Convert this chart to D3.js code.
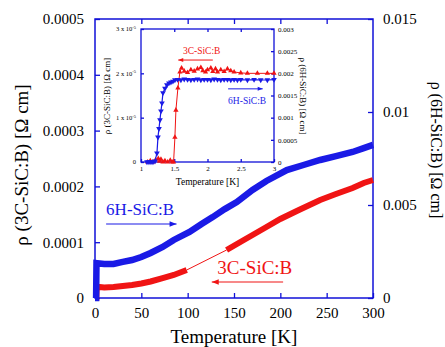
<!DOCTYPE html>
<html>
<head>
<meta charset="utf-8">
<script src="https://cdn.jsdelivr.net/npm/d3@7"></script>
<style>
  body { margin: 0; background: #fff; }
  svg { display: block; }
  text { font-family: "Liberation Serif", "Times New Roman", serif; }
</style>
</head>
<body>
<div id="chart"></div>
<script>
// main plot: 3C-SiC:B (left axis) and 6H-SiC:B (right axis)
const blueT = [0, 1.2, 1.6, 5, 10, 20, 30, 40, 50, 60, 73, 85, 102, 115, 127, 140, 153, 170, 185, 207, 225, 243, 260, 278, 290, 300];
const blueRho = [0, 0, 0.00188, 0.00186, 0.00183, 0.00183, 0.00194, 0.00204, 0.0022, 0.00242, 0.00274, 0.00312, 0.00355, 0.00398, 0.00435, 0.00478, 0.00516, 0.00581, 0.00629, 0.00688, 0.00715, 0.00742, 0.00763, 0.00785, 0.00806, 0.00823];
const redT1 = [0, 1.4, 1.8, 5, 10, 20, 30, 40, 50, 60, 73, 85, 99];
const redRho1 = [0, 0, 1.97e-5, 1.95e-5, 1.88e-5, 1.97e-5, 2.15e-5, 2.33e-5, 2.6e-5, 2.96e-5, 3.58e-5, 4.12e-5, 5.02e-5];
const redT2 = [142, 155, 170, 185, 200, 220, 243, 260, 278, 290, 300];
const redRho2 = [8.6e-5, 9.86e-5, 1.129e-4, 1.272e-4, 1.416e-4, 1.577e-4, 1.756e-4, 1.864e-4, 1.971e-4, 2.061e-4, 2.115e-4];

// inset: low temperature transition
const insetBlueT = [1.09, 1.12, 1.15, 1.18, 1.21, 1.24, 1.255, 1.27, 1.285, 1.3, 1.315, 1.33, 1.36, 1.39, 1.42, 1.45, 1.48, 1.51, 1.55, 1.6, 1.65, 1.7, 1.75, 1.8, 1.85, 1.9, 1.95, 2.0, 2.05, 2.1, 2.15, 2.2, 2.25, 2.3, 2.35, 2.4, 2.45, 2.5, 2.6, 2.7, 2.8, 2.9, 3.0];
const insetBlueRho = [0, 0, 0, 0, 0.00002, 0.0002, 0.00056, 0.00075, 0.00095, 0.00115, 0.00133, 0.00156, 0.00166, 0.00174, 0.00178, 0.0018, 0.00182, 0.00185, 0.00186, 0.00185, 0.00187, 0.00186, 0.00185, 0.00186, 0.00187, 0.00185, 0.00186, 0.00186, 0.00185, 0.00187, 0.00186, 0.00185, 0.00186, 0.00186, 0.00185, 0.00186, 0.00185, 0.00186, 0.00185, 0.00186, 0.00185, 0.00185, 0.00186];
const insetRedT = [1.1, 1.14, 1.18, 1.22, 1.26, 1.28, 1.3, 1.33, 1.36, 1.4, 1.44, 1.47, 1.49, 1.51, 1.525, 1.555, 1.585, 1.61, 1.65, 1.7, 1.75, 1.8, 1.85, 1.9, 1.93, 1.97, 2.0, 2.05, 2.08, 2.12, 2.15, 2.2, 2.25, 2.3, 2.35, 2.4, 2.5, 2.6, 2.75, 2.9, 3.0];
const insetRedRho = [0, 3e-7, 0, 5e-7, 8e-7, 2e-7, 6e-7, 0, 3e-7, 0, 4e-7, 0, 0, 5.6e-6, 1.17e-5, 1.67e-5, 2.03e-5, 2.12e-5, 2.05e-5, 2.02e-5, 2.08e-5, 2.05e-5, 2.1e-5, 2.13e-5, 2.06e-5, 2.03e-5, 2.08e-5, 2.12e-5, 2.04e-5, 2.1e-5, 2.03e-5, 2.08e-5, 2.04e-5, 2.1e-5, 2.06e-5, 2.03e-5, 2.01e-5, 2.0e-5, 2.0e-5, 2.0e-5, 2.0e-5];

// ticks
const mainXTicks = [0, 50, 100, 150, 200, 250, 300];
const mainLeftTicks = [0, 0.0001, 0.0002, 0.0003, 0.0004, 0.0005];
const mainRightTicks = [0, 0.005, 0.01, 0.015];
const insetXTicks = [1, 1.5, 2, 2.5, 3];
const insetLeftTicks = [0, 1e-5, 2e-5, 3e-5];
const insetRightTicks = [0, 0.0005, 0.001, 0.0015, 0.002, 0.0025, 0.003];

const W = 445, H = 347;
const frameBlue = '#1010d8';
const dataBlue = '#1a1ae6';
const dataRed = '#f01414';

const svg = d3.select('#chart').append('svg')
  .attr('width', W)
  .attr('height', H);

// Scales
const x = d3.scaleLinear().domain([0, 300]).range([95, 373]);
const yL = d3.scaleLinear().domain([0, 0.0005]).range([298, 19]);
const yR = d3.scaleLinear().domain([0, 0.015]).range([298, 19]);

const ix = d3.scaleLinear().domain([1, 3]).range([141, 274]);
const iyL = d3.scaleLinear().domain([0, 3e-5]).range([162, 29]);
const iyR = d3.scaleLinear().domain([0, 0.003]).range([162, 29]);

function fmt(d, p) {
  return d === 0 ? '0' : String(+d.toFixed(p));
}

function styleAxis(g) {
  g.select('.domain').remove();
  g.selectAll('.tick line').attr('stroke', frameBlue).attr('stroke-width', 1.3);
  g.selectAll('.tick text').attr('fill', '#000');
}

// main frame
svg.append('rect')
  .attr('x', 95).attr('y', 19)
  .attr('width', 278).attr('height', 279)
  .attr('fill', 'none')
  .attr('stroke', frameBlue)
  .attr('stroke-width', 1.5);

// main axes (ticks point inward)
svg.append('g')
  .attr('transform', 'translate(0,298)')
  .call(d3.axisBottom(x).tickValues(mainXTicks).tickSize(-5).tickPadding(9).tickFormat(d => d))
  .call(styleAxis)
  .selectAll('text').style('font-size', '15px');
svg.append('g')
  .attr('transform', 'translate(0,19)')
  .call(d3.axisTop(x).tickValues(mainXTicks.slice(1, -1)).tickSize(-5).tickFormat(''))
  .call(styleAxis);
svg.append('g')
  .attr('transform', 'translate(95,0)')
  .call(d3.axisLeft(yL).tickValues(mainLeftTicks).tickSize(-5).tickPadding(11).tickFormat(d => fmt(d, 4)))
  .call(styleAxis)
  .selectAll('text').style('font-size', '15px');
svg.append('g')
  .attr('transform', 'translate(373,0)')
  .call(d3.axisRight(yR).tickValues(mainRightTicks).tickSize(-5).tickPadding(10).tickFormat(d => fmt(d, 3)))
  .call(styleAxis)
  .selectAll('text').style('font-size', '15px');

// main curves
const lineBlue = d3.line().x((d, i) => x(blueT[i])).y(d => yR(d));
const lineRed1 = d3.line().x((d, i) => x(redT1[i])).y(d => yL(d));
const lineRed2 = d3.line().x((d, i) => x(redT2[i])).y(d => yL(d));

svg.append('path')
  .attr('d', `M${x(redT1[redT1.length - 1])},${yL(redRho1[redRho1.length - 1])}L${x(redT2[0])},${yL(redRho2[0])}`)
  .attr('stroke', dataRed).attr('stroke-width', 1).attr('fill', 'none');
svg.append('path').attr('d', lineRed1(redRho1))
  .attr('stroke', dataRed).attr('stroke-width', 6).attr('fill', 'none');
svg.append('path').attr('d', lineRed2(redRho2))
  .attr('stroke', dataRed).attr('stroke-width', 6).attr('fill', 'none');
svg.append('path').attr('d', lineBlue(blueRho))
  .attr('stroke', dataBlue).attr('stroke-width', 6.5).attr('fill', 'none');

// arrows
function arrow(g, x1, y1, x2, y2, color, w, head) {
  g.append('line')
    .attr('x1', x1).attr('y1', y1).attr('x2', x2).attr('y2', y2)
    .attr('stroke', color).attr('stroke-width', w);
  const dir = x2 > x1 ? 1 : -1;
  g.append('path')
    .attr('d', `M${x2},${y2}L${x2 - dir * head},${y2 - head * 0.4}L${x2 - dir * head},${y2 + head * 0.4}Z`)
    .attr('fill', color);
}

// main annotations
svg.append('text')
  .attr('x', x(12)).attr('y', yL(1.49e-4))
  .attr('fill', dataBlue)
  .style('font-size', '17px')
  .text('6H-SiC:B');
arrow(svg, x(12), yL(1.326e-4), x(88), yL(1.326e-4), dataBlue, 1.2, 7);
svg.append('text')
  .attr('x', x(132)).attr('y', yL(4.3e-5))
  .attr('fill', dataRed)
  .style('font-size', '19px')
  .text('3C-SiC:B');
arrow(svg, x(203), yL(2.87e-5), x(126), yL(2.87e-5), dataRed, 1.2, 7);

// main labels
svg.append('text')
  .attr('x', 234).attr('y', 343)
  .attr('text-anchor', 'middle')
  .style('font-size', '19px')
  .text('Temperature [K]');
svg.append('text')
  .attr('transform', 'translate(28,165) rotate(-90)')
  .attr('text-anchor', 'middle')
  .style('font-size', '19px')
  .text('ρ (3C-SiC:B) [Ω cm]');
svg.append('text')
  .attr('transform', 'translate(431,150) rotate(90)')
  .attr('text-anchor', 'middle')
  .style('font-size', '16px')
  .text('ρ (6H-SiC:B) [Ω cm]');

// ---------- inset ----------
const inset = svg.append('g');
inset.append('rect')
  .attr('x', 141).attr('y', 29)
  .attr('width', 133).attr('height', 133)
  .attr('fill', '#fff')
  .attr('stroke', frameBlue)
  .attr('stroke-width', 1.3);

inset.append('g')
  .attr('transform', 'translate(0,162)')
  .call(d3.axisBottom(ix).tickValues(insetXTicks).tickSize(-3).tickPadding(4).tickFormat(d => d))
  .call(styleAxis)
  .selectAll('text').style('font-size', '7px');
inset.append('g')
  .attr('transform', 'translate(0,29)')
  .call(d3.axisTop(ix).tickValues(insetXTicks.slice(1, -1)).tickSize(-3).tickFormat(''))
  .call(styleAxis);
const iLeft = inset.append('g')
  .attr('transform', 'translate(141,0)')
  .call(d3.axisLeft(iyL).tickValues(insetLeftTicks).tickSize(-3).tickPadding(4).tickFormat(''))
  .call(styleAxis);
iLeft.selectAll('.tick').each(function(d) {
  const t = d3.select(this).append('text')
    .attr('x', -5).attr('dy', '0.3em')
    .attr('text-anchor', 'end')
    .attr('fill', '#000')
    .style('font-size', '6.5px');
  if (d === 0) {
    t.text('0');
  } else {
    t.append('tspan').text(Math.round(d * 1e5) + ' x 10');
    t.append('tspan').attr('dy', '-2.5').style('font-size', '4.5px').text('-5');
  }
});
inset.append('g')
  .attr('transform', 'translate(274,0)')
  .call(d3.axisRight(iyR).tickValues(insetRightTicks).tickSize(-3).tickPadding(4).tickFormat(d => fmt(d, 4)))
  .call(styleAxis)
  .selectAll('text').style('font-size', '7px');

// inset curves
const iLineBlue = d3.line().x((d, i) => ix(insetBlueT[i])).y(d => iyR(d));
const iLineRed = d3.line().x((d, i) => ix(insetRedT[i])).y(d => iyL(d));
inset.append('path').attr('d', iLineRed(insetRedRho))
  .attr('stroke', dataRed).attr('stroke-width', 1).attr('fill', 'none');
inset.selectAll('.rm')
  .data(insetRedRho)
  .enter()
  .append('path')
  .attr('class', 'rm')
  .attr('transform', (d, i) => 'translate(' + ix(insetRedT[i]) + ',' + iyL(d) + ')')
  .attr('d', d3.symbol(d3.symbolTriangle, 12))
  .attr('fill', dataRed);
inset.append('path').attr('d', iLineBlue(insetBlueRho))
  .attr('stroke', dataBlue).attr('stroke-width', 1.2).attr('fill', 'none');
inset.selectAll('.bm')
  .data(insetBlueRho)
  .enter()
  .append('path')
  .attr('class', 'bm')
  .attr('transform', (d, i) => 'translate(' + ix(insetBlueT[i]) + ',' + iyR(d) + ') rotate(180)')
  .attr('d', d3.symbol(d3.symbolTriangle, 14))
  .attr('fill', dataBlue);

// inset annotations
inset.append('text')
  .attr('x', ix(1.63)).attr('y', iyL(2.44e-5))
  .attr('fill', dataRed)
  .style('font-size', '9.5px')
  .text('3C-SiC:B');
arrow(inset, ix(2.08), iyL(2.3e-5), ix(1.56), iyL(2.3e-5), dataRed, 1, 5);
inset.append('text')
  .attr('x', ix(2.31)).attr('y', iyL(1.31e-5))
  .attr('fill', dataBlue)
  .style('font-size', '9.5px')
  .text('6H-SiC:B');
arrow(inset, ix(2.31), iyL(1.65e-5), ix(2.83), iyL(1.65e-5), dataBlue, 1, 5);

inset.append('text')
  .attr('x', ix(2)).attr('y', 185)
  .attr('text-anchor', 'middle')
  .style('font-size', '9.5px')
  .text('Temperature [K]');
inset.append('text')
  .attr('transform', 'translate(110,96) rotate(-90)')
  .attr('text-anchor', 'middle')
  .style('font-size', '9px')
  .text('ρ (3C-SiC:B) [Ω cm]');
inset.append('text')
  .attr('transform', 'translate(300,96) rotate(90)')
  .attr('text-anchor', 'middle')
  .style('font-size', '9px')
  .text('ρ (6H-SiC:B) [Ω cm]');
</script>
</body>
</html>
